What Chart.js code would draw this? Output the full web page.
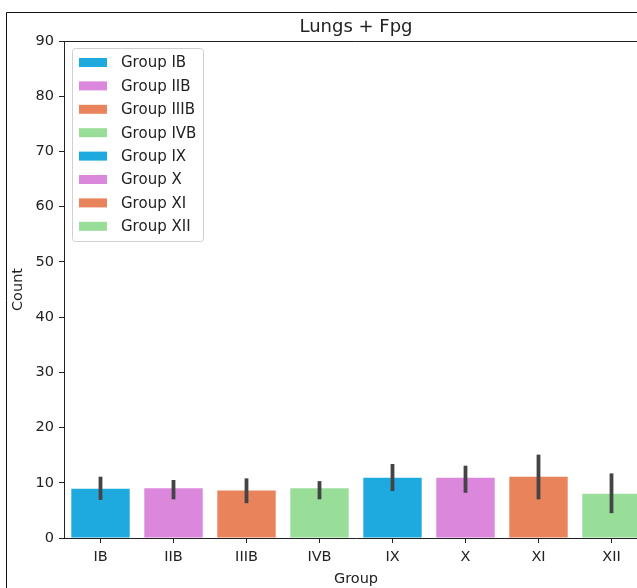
<!DOCTYPE html>
<html>
<head>
<meta charset="utf-8">
<script src="https://cdn.jsdelivr.net/npm/chart.js@4"></script>
<style>
  html, body { margin: 0; padding: 0; overflow: hidden; background: #fff; }
  #wrap { position: absolute; left: 0; top: 0; width: 652px; height: 588px; }
</style>
</head>
<body>
<div id="wrap"><canvas id="myChart" width="652" height="588"></canvas></div>
<script>
// datos
var groups = ['IB', 'IIB', 'IIIB', 'IVB', 'IX', 'X', 'XI', 'XII'];
var counts = [8.9, 9.0, 8.6, 9.0, 10.9, 10.9, 11.1, 8.0];
var errLow = [6.9, 7.0, 6.3, 7.0, 8.5, 8.2, 7.0, 4.5];
var errHigh = [11.1, 10.5, 10.8, 10.3, 13.4, 13.1, 15.1, 11.7];
var yTicks = [0, 10, 20, 30, 40, 50, 60, 70, 80, 90];
var palette = ['#1eaadf', '#da87dc', '#e8835c', '#98de98'];
var colors = groups.map(function(g, i) { return palette[i % 4]; });
var legendLabels = groups.map(function(g) { return 'Group ' + g; });

var font = 'DejaVu Sans';

// barras de error, marco, titulo y leyenda
var extras = {
    id: 'extras',
    afterDatasetsDraw: function(chart) {
        var ctx = chart.ctx;
        var y = chart.scales.y;
        var meta = chart.getDatasetMeta(0);
        ctx.save();
        ctx.strokeStyle = '#444';
        ctx.lineWidth = 3.8;
        meta.data.forEach(function(bar, i) {
            ctx.beginPath();
            ctx.moveTo(bar.x, y.getPixelForValue(errLow[i]));
            ctx.lineTo(bar.x, y.getPixelForValue(errHigh[i]));
            ctx.stroke();
        });
        ctx.restore();
    },
    afterDraw: function(chart) {
        var ctx = chart.ctx;
        var a = chart.chartArea;
        ctx.save();
        // borde de la figura
        ctx.strokeStyle = '#111';
        ctx.lineWidth = 1;
        ctx.beginPath();
        ctx.moveTo(6.5, 588);
        ctx.lineTo(6.5, 12.5);
        ctx.lineTo(652, 12.5);
        ctx.stroke();
        // lados superior y derecho de los ejes
        ctx.strokeStyle = '#222';
        ctx.beginPath();
        ctx.moveTo(a.left, Math.round(a.top) + 0.5);
        ctx.lineTo(Math.round(a.right) - 0.5, Math.round(a.top) + 0.5);
        ctx.lineTo(Math.round(a.right) - 0.5, a.bottom);
        ctx.stroke();
        // titulo
        ctx.fillStyle = '#222';
        ctx.font = '18px "' + font + '"';
        ctx.textAlign = 'center';
        ctx.textBaseline = 'middle';
        ctx.fillText('Lungs + Fpg', (a.left + a.right) / 2, 27);
        // leyenda
        var lx = 72, ly = 48, lw = 131, lh = 193;
        ctx.fillStyle = 'rgba(255,255,255,0.8)';
        ctx.strokeStyle = '#d0d0d0';
        ctx.beginPath();
        ctx.roundRect(lx + 0.5, ly + 0.5, lw, lh, 3);
        ctx.fill();
        ctx.stroke();
        ctx.font = '15px "' + font + '"';
        ctx.textAlign = 'left';
        legendLabels.forEach(function(txt, i) {
            var cy = 62.5 + i * 23.4;
            ctx.fillStyle = colors[i];
            ctx.fillRect(79, cy - 4.5, 28, 9);
            ctx.fillStyle = '#222';
            ctx.fillText(txt, 121, cy + 1);
        });
        ctx.restore();
    }
};

var ctx = document.getElementById('myChart').getContext('2d');
var myChart = new Chart(ctx, {
    type: 'bar',
    data: {
        labels: groups,
        datasets: [{
            label: 'Count',
            data: counts,
            backgroundColor: colors,
            borderWidth: 0,
            categoryPercentage: 0.8,
            barPercentage: 1.0
        }]
    },
    options: {
        responsive: false,
        animation: false,
        layout: { padding: { top: 41, right: 4, bottom: 0, left: 0 } },
        plugins: {
            legend: { display: false },
            tooltip: { enabled: false }
        },
        scales: {
            x: {
                afterFit: function(s) { s.height = 50; },
                grid: { display: true, drawOnChartArea: false, drawTicks: true, tickLength: 5, offset: false, color: '#222' },
                border: { display: true, color: '#222' },
                ticks: { color: '#222', padding: 6, font: { family: font, size: 14.5 } },
                title: { display: true, text: 'Group', color: '#222', padding: { top: 2, bottom: 0 }, font: { family: font, size: 14.5 } }
            },
            y: {
                min: 0,
                max: 90,
                afterFit: function(s) { s.width = 64; },
                afterBuildTicks: function(s) { s.ticks = yTicks.map(function(v) { return { value: v }; }); },
                grid: { display: true, drawOnChartArea: false, drawTicks: true, tickLength: 5, color: '#222' },
                border: { display: true, color: '#222' },
                ticks: { color: '#222', padding: 5, font: { family: font, size: 14.5 } },
                title: { display: true, text: 'Count', color: '#222', padding: { top: 10, bottom: 0 }, font: { family: font, size: 14.5 } }
            }
        }
    },
    plugins: [extras]
});
</script>
</body>
</html>
